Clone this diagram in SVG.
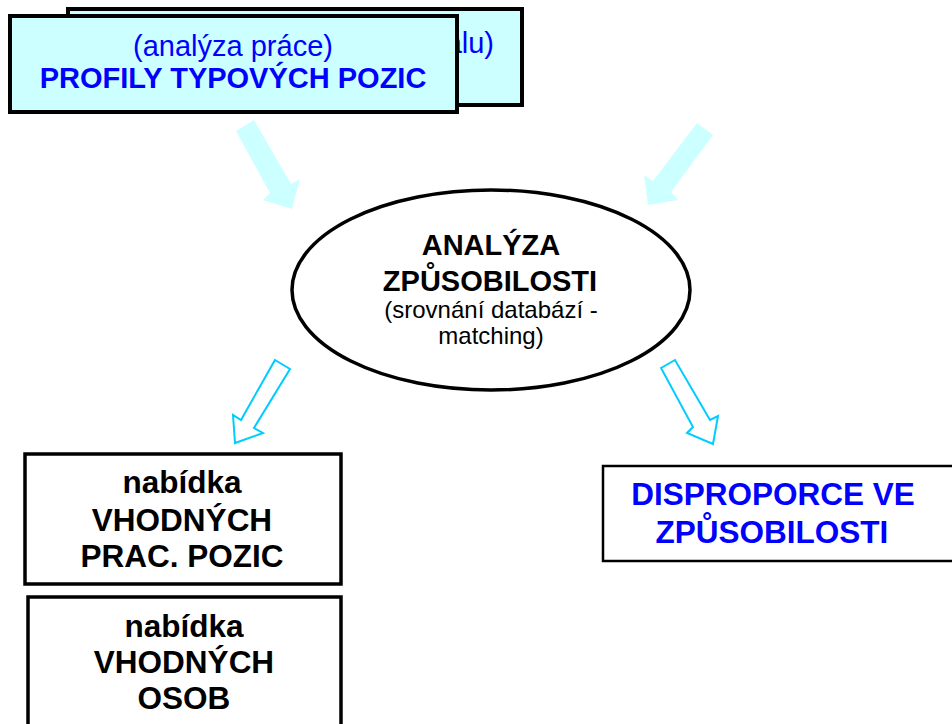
<svg xmlns="http://www.w3.org/2000/svg" width="952" height="724" viewBox="0 0 952 724">
<style>
text{font-family:"Liberation Sans",Arial,sans-serif;text-anchor:middle}
.cy{fill:#CCFFFF;stroke:#000;stroke-width:4}
.box{fill:#fff;stroke:#000;stroke-width:3.5}
.b{font-weight:bold}
.blue{fill:#0000FF}
.blk{fill:#000}
.fa{fill:#CCFFFF;stroke:none}
.oa{fill:#fff;stroke:#00CCFF;stroke-width:2;stroke-linejoin:miter}
</style>
<rect width="952" height="724" fill="#fff"/>
<g id="back-box">
<rect class="cy" x="68" y="9" width="454" height="96"/>
<text class="blue" x="494" y="53" font-size="29" style="text-anchor:end">alu)</text>
</g>
<g id="front-box">
<rect class="cy" x="10" y="16" width="447" height="96"/>
<text class="blue" x="233" y="56" font-size="29">(analýza práce)</text>
<text class="blue b" x="233" y="88" font-size="29">PROFILY TYPOVÝCH POZIC</text>
</g>
<g id="connectors">
<polygon class="fa" points="236,131 254,120 291,184 300,179 292,209 263,200 270,193"/>
<polygon class="fa" points="697,123 713,135 671,192 678,200 648,205 644,175 653,181"/>
<polygon class="oa" points="275,360 290,369 254,428 263,433 235,443 233,415 241,420"/>
<polygon class="oa" points="661,368 675,360 710,420 718,416 713,444 687,433 693,427"/>
</g>
<g id="analysis">
<ellipse cx="491" cy="290" rx="199" ry="100" fill="#fff" stroke="#000" stroke-width="3.5"/>
<text class="blk b" x="491" y="255" font-size="29">ANALÝZA</text>
<text class="blk b" x="490" y="291" font-size="29">ZPŮSOBILOSTI</text>
<text class="blk" x="491" y="318" font-size="24">(srovnání databází -</text>
<text class="blk" x="491" y="344" font-size="24">matching)</text>
</g>
<g id="offer-positions">
<rect class="box" x="25" y="454" width="316" height="130"/>
<text class="blk b" x="182" y="493" font-size="31.5">nabídka</text>
<text class="blk b" x="182" y="531" font-size="31.5">VHODNÝCH</text>
<text class="blk b" x="182" y="567" font-size="31.5">PRAC. POZIC</text>
</g>
<g id="offer-persons">
<rect class="box" x="28" y="597" width="313" height="140"/>
<text class="blk b" x="184" y="637" font-size="31.5">nabídka</text>
<text class="blk b" x="184" y="673" font-size="31.5">VHODNÝCH</text>
<text class="blk b" x="184" y="709" font-size="31.5">OSOB</text>
</g>
<g id="disproportion">
<rect x="603" y="466" width="360" height="95" fill="#fff" stroke="#000" stroke-width="2.5"/>
<text class="blue b" x="773" y="505" font-size="31.5">DISPROPORCE VE</text>
<text class="blue b" x="772" y="543" font-size="31.5">ZPŮSOBILOSTI</text>
</g>
</svg>
